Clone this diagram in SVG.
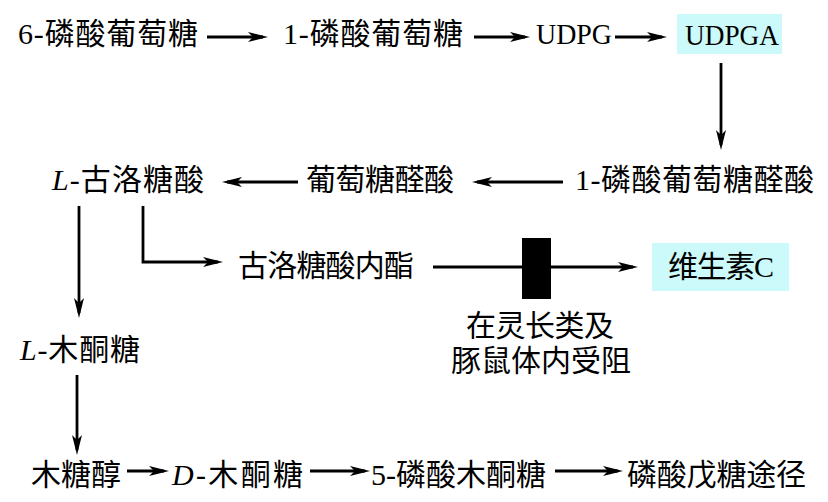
<svg xmlns="http://www.w3.org/2000/svg" width="828" height="502" viewBox="0 0 828 502">
<style>
text{font-family:"Liberation Serif","Noto Sans CJK SC",serif;font-size:30px;fill:#000}
.it{font-style:italic}
.c line,.c polyline{stroke:#000;stroke-width:2.8;fill:none;marker-end:url(#ah)}
.box{fill:#ccfafa}
</style>
<defs>
<marker id="ah" markerUnits="userSpaceOnUse" markerWidth="22" markerHeight="12" viewBox="0 -6 22 12" refX="15" refY="0" orient="auto">
<path d="M0,-5 L20,0 L0,5 L5,0 z" fill="#000"/>
</marker>
</defs>
<rect width="828" height="502" fill="#fff"/>
<g id="n1"><text x="18" y="44" textLength="180" lengthAdjust="spacing">6-磷酸葡萄糖</text></g>
<g id="n2"><text x="283" y="44" textLength="180" lengthAdjust="spacing">1-磷酸葡萄糖</text></g>
<g id="n3"><text x="536" y="44" textLength="76" lengthAdjust="spacingAndGlyphs">UDPG</text></g>
<g id="n4"><rect class="box" x="677" y="14" width="105" height="40"/><text x="685" y="45" textLength="94" lengthAdjust="spacingAndGlyphs">UDPGA</text></g>
<g id="n5"><text x="575" y="190" textLength="239" lengthAdjust="spacing">1-磷酸葡萄糖醛酸</text></g>
<g id="n6"><text x="306" y="190" textLength="148" lengthAdjust="spacing">葡萄糖醛酸</text></g>
<g id="n7"><text x="52" y="190" textLength="152" lengthAdjust="spacing"><tspan class="it">L</tspan>-古洛糖酸</text></g>
<g id="n8"><text x="238" y="276" textLength="176" lengthAdjust="spacing">古洛糖酸内酯</text></g>
<g id="n9"><rect class="box" x="652" y="243" width="137" height="48"/><text x="668" y="277" textLength="106" lengthAdjust="spacing">维生素C</text></g>
<g id="n10"><text x="20" y="360" textLength="120" lengthAdjust="spacing"><tspan class="it">L</tspan>-木酮糖</text></g>
<g id="n11"><text x="31" y="485" textLength="90" lengthAdjust="spacing">木糖醇</text></g>
<g id="n12"><text x="172" y="485" textLength="131" lengthAdjust="spacing"><tspan class="it">D</tspan>-木酮糖</text></g>
<g id="n13"><text x="371" y="485" textLength="175" lengthAdjust="spacing">5-磷酸木酮糖</text></g>
<g id="n14"><text x="627" y="485" textLength="179" lengthAdjust="spacing">磷酸戊糖途径</text></g>
<g id="c" class="c">
<line x1="207" y1="37" x2="263" y2="37"/>
<line x1="474" y1="37" x2="525" y2="37"/>
<line x1="615" y1="37" x2="662" y2="37"/>
<line x1="721" y1="63" x2="721" y2="145"/>
<line x1="563" y1="182" x2="477" y2="182"/>
<line x1="298" y1="182" x2="227" y2="182"/>
<line x1="79" y1="206" x2="79" y2="313"/>
<polyline points="143,206 143,262 218,262"/>
<line x1="433" y1="267" x2="633" y2="267"/>
<line x1="77" y1="375" x2="77" y2="450"/>
<line x1="127" y1="471" x2="164" y2="471"/>
<line x1="310" y1="471" x2="365" y2="471"/>
<line x1="555" y1="471" x2="618" y2="471"/>
</g>
<g id="block">
<rect x="522" y="238" width="29" height="61" fill="#000"/>
<text x="466" y="336" textLength="148" lengthAdjust="spacing">在灵长类及</text>
<text x="451" y="371" textLength="180" lengthAdjust="spacing">豚鼠体内受阻</text>
</g>
</svg>
